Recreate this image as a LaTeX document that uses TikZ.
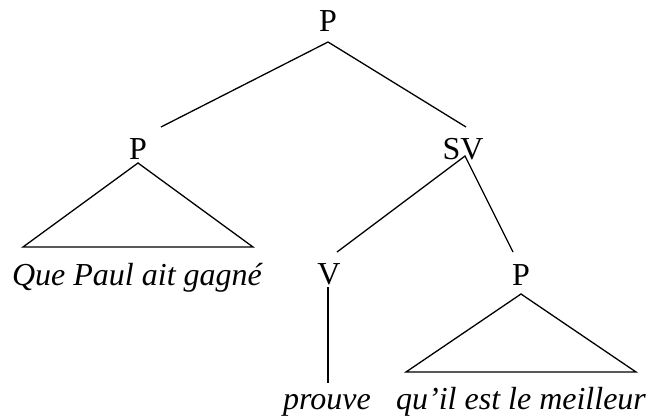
\documentclass[tikz,border=0pt]{standalone}
\usepackage{fontspec}
\setmainfont{Liberation Serif}
\usepackage{tikz}

\begin{document}
\begin{tikzpicture}[x=1pt, y=-1pt, line width=1.3pt,
  cat/.style={inner sep=0pt, anchor=base, font=\fontsize{32}{38}\selectfont},
  leaf/.style={cat, font=\fontsize{32}{38}\selectfont\itshape}]
  \useasboundingbox (0,0) rectangle (647,417);
  % labels
  \node[cat] (top) at (328,32) {P};
  \node[cat] (p1) at (138,159) {P};
  \node[cat] (sv) at (463,159) {SV};
  \node[cat] (v) at (329,284) {V};
  \node[cat] (p2) at (521,285) {P};
  \node[leaf] (que) at (137,285) {Que Paul ait gagné};
  \node[leaf] (prouve) at (327,409) {prouve};
  \node[leaf] (quil) at (521,409) {qu’il est le meilleur};
  % branch ends
  \coordinate (top-a) at (328,42);
  \coordinate (p1-e) at (161,127);
  \coordinate (sv-e) at (466,127);
  \coordinate (p1-a) at (138,163);
  \coordinate (p1-l) at (23,247);
  \coordinate (p1-r) at (253,247);
  \coordinate (sv-a) at (465,156);
  \coordinate (v-e) at (337,252);
  \coordinate (p2-e) at (513,252);
  \coordinate (v-a) at (328,287);
  \coordinate (prouve-e) at (328,383);
  \coordinate (p2-a) at (521,294);
  \coordinate (p2-l) at (406,372);
  \coordinate (p2-r) at (636,372);
  % branches
  \draw (p1-e) -- (top-a) -- (sv-e);
  \draw (p1-l) -- (p1-a) -- (p1-r) -- cycle;
  \draw (v-e) -- (sv-a) -- (p2-e);
  \draw (v-a) -- (prouve-e);
  \draw (p2-l) -- (p2-a) -- (p2-r) -- cycle;
\end{tikzpicture}
\end{document}
